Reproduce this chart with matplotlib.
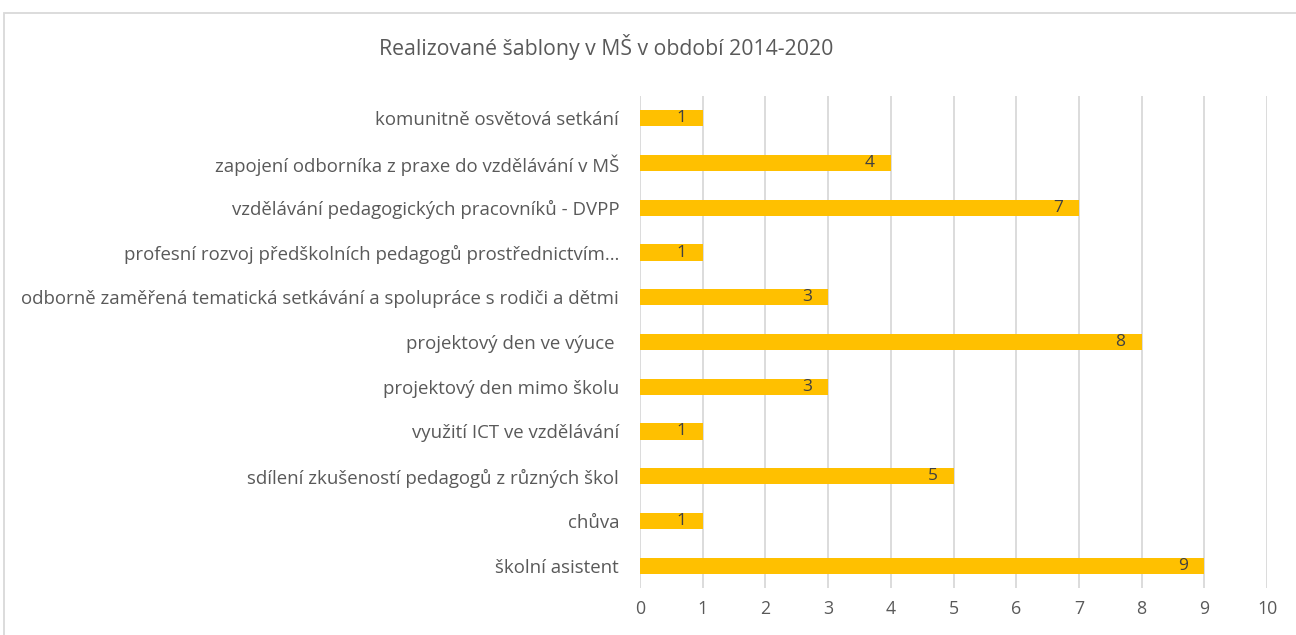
import matplotlib.pyplot as plt
from matplotlib.patches import Rectangle

categories = [
    'komunitně osvětová setkání',
    'zapojení odborníka z praxe do vzdělávání v MŠ',
    'vzdělávání pedagogických pracovníků - DVPP',
    'profesní rozvoj předškolních pedagogů prostřednictvím…',
    'odborně zaměřená tematická setkávání a spolupráce s rodiči a dětmi',
    'projektový den ve výuce ',
    'projektový den mimo školu',
    'využití ICT ve vzdělávání',
    'sdílení zkušeností pedagogů z různých škol',
    'chůva',
    'školní asistent',
]
values = [1, 4, 7, 1, 3, 8, 3, 1, 5, 1, 9]
x_ticks = list(range(0, 11))

plt.rcParams['font.family'] = ['Open Sans', 'DejaVu Sans']

fig = plt.figure(figsize=(12.96, 6.35), dpi=100)
ax = fig.add_axes([640 / 1296, 1 - 588 / 635, 627 / 1296, 492 / 635])

pos = list(range(len(categories)))
ax.barh(pos, values, height=0.36, color='#FFC000', zorder=3)
for y, v in zip(pos, values):
    ax.annotate(str(v), xy=(v, y), xytext=(-21, 0), textcoords='offset pixels',
                ha='center', va='center', fontsize=12.5, color='#404040', zorder=4)

ax.set_ylim(len(categories) - 0.5, -0.5)
ax.set_xlim(0, 10)
ax.set_xticks(x_ticks)
ax.set_yticks(pos)
ax.set_yticklabels(categories)
ax.tick_params(axis='both', length=0, labelsize=12.8, colors='#595959')
ax.tick_params(axis='y', pad=15, labelsize=13.4)
ax.tick_params(axis='x', pad=9)
ax.xaxis.grid(True, color='#D9D9D9', linewidth=1.3, zorder=0)
for s in ax.spines.values():
    s.set_visible(False)

fig.text(606 / 1296, 1 - 47 / 635, 'Realizované šablony v MŠ v období 2014-2020',
         ha='center', va='center', fontsize=15.3, color='#595959')

fig.patches.append(Rectangle((4 / 1296, -0.1), 1.2, 1.1 - 13 / 635, transform=fig.transFigure,
                             fill=False, edgecolor='#D9D9D9', linewidth=1.3))

fig.savefig('out.png', dpi=100)
